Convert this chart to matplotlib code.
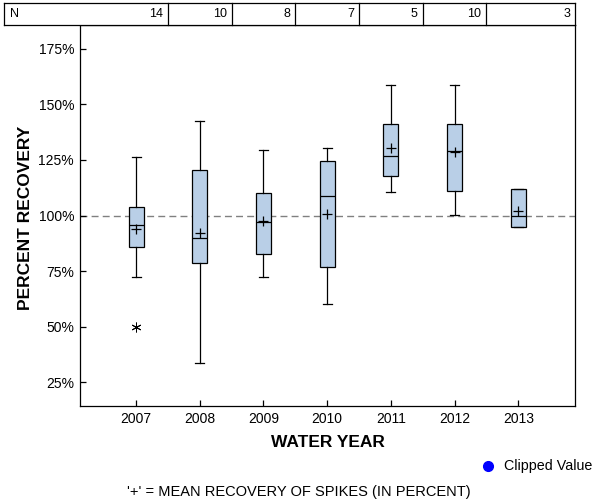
import matplotlib
matplotlib.use('Agg')
import matplotlib.pyplot as plt
from matplotlib.transforms import blended_transform_factory, offset_copy
from matplotlib.lines import Line2D

plt.rcParams['font.family'] = ['Liberation Sans', 'DejaVu Sans']

# ---- data ----
years = ['2007', '2008', '2009', '2010', '2011', '2012', '2013']
n_counts = [14, 10, 8, 7, 5, 10, 3]
whisker_low = [72.2, 33.4, 72.2, 60.1, 110.4, 100.1, 94.7]
q1 = [85.8, 78.5, 82.5, 76.8, 117.7, 110.9, 94.7]
medians = [95.6, 89.9, 96.9, 108.8, 126.7, 129.0, 99.8]
q3 = [103.7, 120.4, 110.0, 124.4, 141.1, 141.1, 111.8]
whisker_high = [126.5, 142.4, 129.4, 130.3, 158.8, 158.8, 111.8]
means = [93.8, 92.3, 97.7, 100.8, 130.5, 128.5, 102.0]
outliers = [[49.9], [], [], [], [], [], []]
y_ticks = [25, 50, 75, 100, 125, 150, 175]
reference_value = 100

box_color = '#B9CFE7'
lw = 0.9

fig = plt.figure(figsize=(6, 5), dpi=100)
W, H = 600, 500
ax = fig.add_axes([80 / W, 1 - 406 / H, 495 / W, 381 / H])
tab = fig.add_axes([4 / W, 1 - 25 / H, 571 / W, 22 / H])

positions = list(range(len(years)))
stats = []
for i in positions:
    stats.append(dict(label=years[i], whislo=whisker_low[i], q1=q1[i], med=medians[i],
                      q3=q3[i], whishi=whisker_high[i], mean=means[i], fliers=outliers[i]))

ax.axhline(reference_value, color='#808080', lw=1.0, ls=(0, (5, 3)), zorder=1)

ax.bxp(stats, positions=positions, widths=0.235, capwidths=0.14, patch_artist=True,
       showmeans=True, showfliers=True,
       boxprops=dict(facecolor=box_color, edgecolor='black', linewidth=lw),
       medianprops=dict(color='black', linewidth=lw),
       whiskerprops=dict(color='black', linewidth=lw),
       capprops=dict(color='black', linewidth=lw),
       meanprops=dict(marker='+', markeredgecolor='black', markersize=7, markeredgewidth=0.9),
       flierprops=dict(marker=(6, 2, 0), markeredgecolor='black', markersize=7, markeredgewidth=0.7))

ax.set_xlim(-0.88, 6.89)
ax.set_ylim(14.2, 185.8)
ax.set_xticks(positions)
ax.set_xticklabels(years)
ax.set_yticks(y_ticks)
ax.set_yticklabels([f'{v}%' for v in y_ticks])
ax.tick_params(axis='both', labelsize=10, length=4.3, width=lw, direction='in', pad=4.3, colors='black')
for s in ax.spines.values():
    s.set_linewidth(lw)

ax.set_xlabel('WATER YEAR', fontsize=12.5, fontweight='bold')
ax.xaxis.set_label_coords(0.501, -0.075)
ax.set_ylabel('PERCENT RECOVERY', fontsize=12.5, fontweight='bold')
ax.yaxis.set_label_coords(-0.094, 0.493)

# ---- N table ----
tab.set_xticks([])
tab.set_yticks([])
tab.set_xlim(0, 1)
tab.set_ylim(0, 1)
for s in tab.spines.values():
    s.set_linewidth(lw)
tr = blended_transform_factory(ax.transData, tab.transAxes)
for i in positions[:-1]:
    tab.add_line(Line2D([i + 0.5, i + 0.5], [0, 1], transform=tr, color='black', lw=lw, clip_on=False))
tr_text = offset_copy(tr, fig=fig, x=-5, y=0, units='dots')
xmax = ax.get_xlim()[1]
for i in positions:
    xr = i + 0.5 if i < len(years) - 1 else xmax
    tab.text(xr, 0.5, str(n_counts[i]), transform=tr_text, ha='right', va='center', fontsize=9)
tab.text(6 / 571, 0.5, 'N', transform=tab.transAxes, ha='left', va='center', fontsize=9)

# ---- legend & footnote ----
fig.add_artist(Line2D([488 / W], [1 - 466 / H], transform=fig.transFigure, marker='o',
                      color='#0000FF', markersize=7, linestyle='none'))
fig.text(504 / W, 1 - 466 / H, 'Clipped Value', ha='left', va='center', fontsize=10.3)
fig.text(299 / W, 1 - 492 / H, "'+' = MEAN RECOVERY OF SPIKES (IN PERCENT)",
         ha='center', va='center', fontsize=10.5)

fig.savefig('out.png', dpi=100)
